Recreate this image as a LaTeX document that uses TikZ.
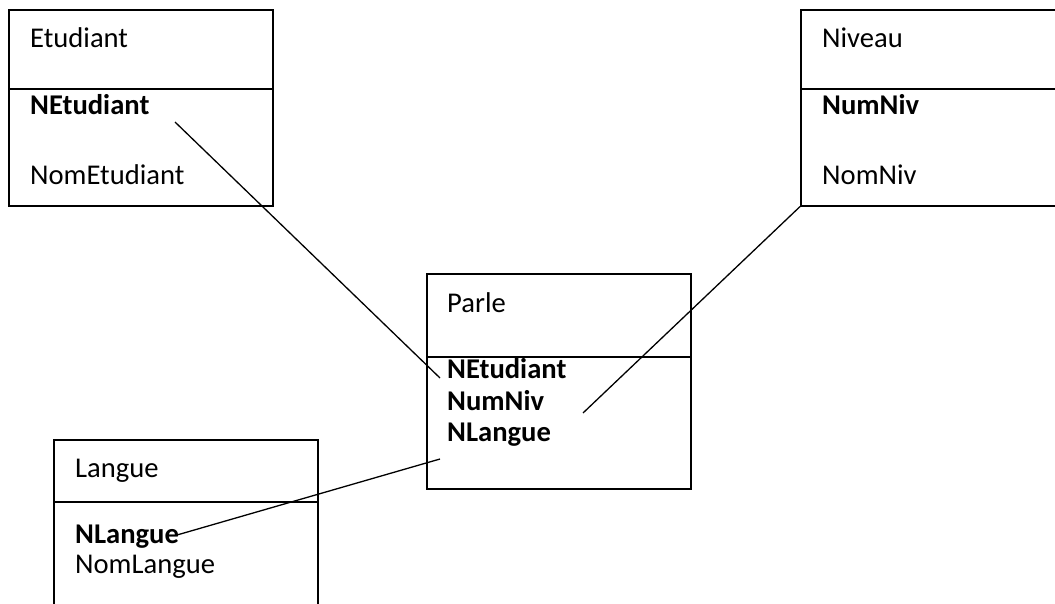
\documentclass[tikz,border=0pt]{standalone}
\usepackage{fontspec}
\setmainfont{Carlito}
\usetikzlibrary{positioning}

\tikzset{
  entity/.style={draw, rectangle, line width=1.6pt, anchor=north west, inner sep=0pt},
  divider/.style={line width=1.6pt},
  attr/.style={anchor=base west, inner sep=0pt, font=\fontsize{28.6}{34}\selectfont},
  keyattr/.style={attr, font=\fontsize{28.6}{34}\selectfont\bfseries},
  link/.style={line width=1.3pt},
}

\begin{document}
\begin{tikzpicture}[x=1pt, y=-1pt]
    \useasboundingbox (0,0) rectangle (1055,604);
    \clip (0,0) rectangle (1055,604);

    % Etudiant
    \node [entity, minimum width=264pt, minimum height=196pt] (Etud) at (8,9) {};
    \draw [divider] ([yshift=-80pt]Etud.north west) -- ([yshift=-80pt]Etud.north east);
    \node [attr] (EtudName) at (30,48) {Etudiant};
    \node [keyattr] (EtudKey) at (30,115) {NEtudiant};
    \node [attr] (EtudNom) at (30,185) {NomEtudiant};

    % Niveau
    \node [entity, minimum width=300pt, minimum height=196pt] (Niv) at (800,9) {};
    \draw [divider] ([yshift=-80pt]Niv.north west) -- ([yshift=-80pt]Niv.north east);
    \node [attr] (NivName) at (822,48) {Niveau};
    \node [keyattr] (NivKey) at (822,115) {NumNiv};
    \node [attr] (NivNom) at (822,185) {NomNiv};

    % Parle
    \node [entity, minimum width=264pt, minimum height=215pt] (Parle) at (426,273) {};
    \draw [divider] ([yshift=-84pt]Parle.north west) -- ([yshift=-84pt]Parle.north east);
    \node [attr] (ParleName) at (447,312) {Parle};
    \node [keyattr] (ParleEtud) at (447,378) {NEtudiant};
    \node [keyattr] (ParleNiv) at (447,410) {NumNiv};
    \node [keyattr] (ParleLang) at (447,441) {NLangue};

    % Langue
    \node [entity, minimum width=264pt, minimum height=200pt] (Lang) at (53,439) {};
    \draw [divider] ([yshift=-63pt]Lang.north west) -- ([yshift=-63pt]Lang.north east);
    \node [attr] (LangName) at (75,477) {Langue};
    \node [keyattr] (LangKey) at (75,543) {NLangue};
    \node [attr] (LangNom) at (75,573) {NomLangue};

    % links
    \coordinate (EtudFrom) at (175,122);
    \coordinate (EtudTo) at (440,378);
    \coordinate (NivTo) at (583,413);
    \coordinate (LangFrom) at (440,459);
    \coordinate (LangTo) at (177,535);
    \draw [link] (EtudFrom) -- (EtudTo);
    \draw [link] (Niv.south west) -- (NivTo);
    \draw [link] (LangFrom) -- (LangTo);
\end{tikzpicture}
\end{document}
